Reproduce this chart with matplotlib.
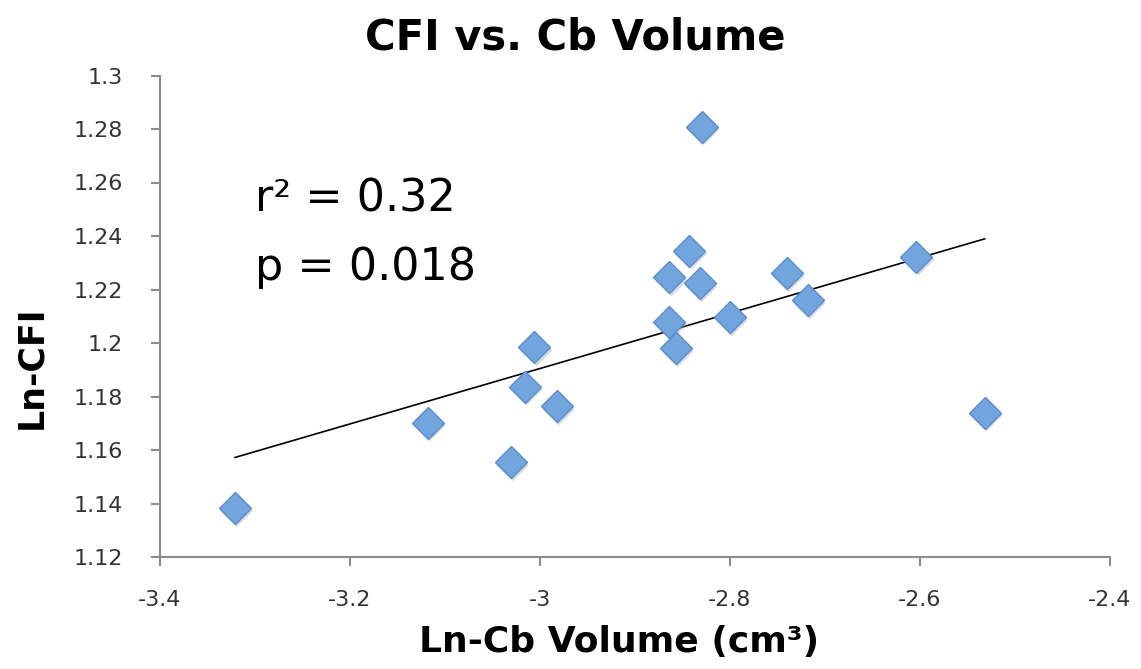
import matplotlib
matplotlib.use("Agg")
import matplotlib.pyplot as plt
import matplotlib.transforms as mtransforms
import numpy as np

plt.rcParams['font.family'] = ['DejaVu Sans']

# Ln of cerebellum volume vs Ln of CFI
ln_cb_volume = [-3.321, -3.118, -3.031, -3.016, -3.006, -2.982, -2.843, -2.864,
                -2.832, -2.864, -2.857, -2.800, -2.740, -2.718, -2.604, -2.830,
                -2.532]
ln_cfi = [1.1383, 1.1702, 1.1556, 1.1837, 1.1984, 1.1765, 1.2345, 1.2246,
          1.2223, 1.2080, 1.1980, 1.2098, 1.2261, 1.2161, 1.2323, 1.2809,
          1.1740]

x_ticks = [-3.4, -3.2, -3.0, -2.8, -2.6, -2.4]
x_tick_labels = ["-3.4", "-3.2", "-3", "-2.8", "-2.6", "-2.4"]
y_ticks = [1.12, 1.14, 1.16, 1.18, 1.2, 1.22, 1.24, 1.26, 1.28, 1.3]
y_tick_labels = ["1.12", "1.14", "1.16", "1.18", "1.2", "1.22", "1.24", "1.26", "1.28", "1.3"]

W, H = 1141, 669
fig = plt.figure(figsize=(W / 100, H / 100), dpi=100)
ax = fig.add_axes([160 / W, 1 - 557 / H, (1110 - 160) / W, (557 - 75.5) / H])

x = np.array(ln_cb_volume)
y = np.array(ln_cfi)

# linear trend line over the data range
slope, icept = np.polyfit(x, y, 1)
xl = np.array([x.min(), x.max()])
ax.plot(xl, slope * xl + icept, color='black', lw=1.2, zorder=2)

# soft drop shadow under the markers, then the markers
shadow = mtransforms.offset_copy(ax.transData, fig=fig, x=1.0, y=-2.0, units='points')
ax.plot(x, y, 'D', ms=16, color='#9a9a9a', mec='none', alpha=0.35, transform=shadow, zorder=2.5)
ax.plot(x, y, 'D', ms=16, color='#72a4de', mec='#5b8ccb', mew=1.0, zorder=3)

ax.set_xlim(-3.4, -2.4)
ax.set_ylim(1.12, 1.3)
ax.set_xticks(x_ticks)
ax.set_xticklabels(x_tick_labels)
ax.set_yticks(y_ticks)
ax.set_yticklabels(y_tick_labels)

for s in ['top', 'right']:
    ax.spines[s].set_visible(False)
for s in ['left', 'bottom']:
    ax.spines[s].set_color('#8c8c8c')
    ax.spines[s].set_linewidth(1.5)
ax.tick_params(axis='both', direction='out', length=6.5, width=1.5, color='#8c8c8c',
               labelsize=16, labelcolor='#333333')
ax.tick_params(axis='y', pad=20)
ax.tick_params(axis='x', pad=17)

ax.text(-3.3, 1.249, "r² = 0.32", fontsize=32, va='baseline', ha='left')
ax.text(-3.3, 1.2235, "p = 0.018", fontsize=32, va='baseline', ha='left')

fig.text(575 / W, 1 - 50 / H, "CFI vs. Cb Volume", fontsize=30, fontweight='bold',
         ha='center', va='baseline')
fig.text(619 / W, 1 - 652 / H, "Ln-Cb Volume (cm³)", fontsize=26, fontweight='bold',
         ha='center', va='baseline')
fig.text(31 / W, 1 - 367 / H, "Ln-CFI", fontsize=25, fontweight='bold',
         ha='center', va='center', rotation=90)

fig.savefig("out.png", dpi=100)
